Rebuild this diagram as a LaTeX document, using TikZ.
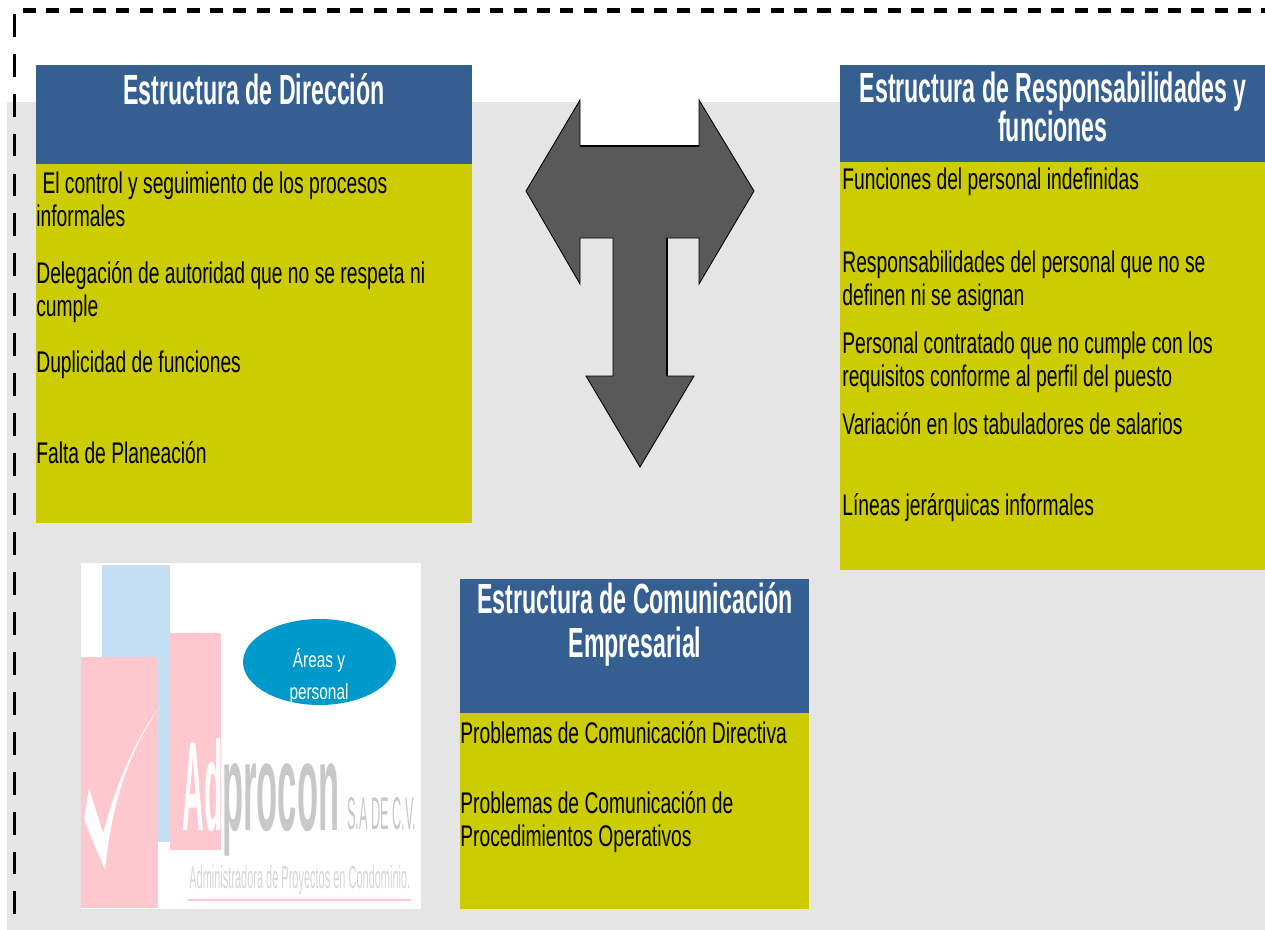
\documentclass[tikz,border=0pt]{standalone}
\usepackage{fontspec}
\setmainfont{Liberation Sans}
\newfontfamily\bodyfont[FakeStretch=0.645]{Liberation Sans}
\newfontfamily\ovalfont[FakeStretch=0.70]{Liberation Sans}
\newfontfamily\titlefont[FakeStretch=0.55]{Liberation Sans Bold}
\usetikzlibrary{shapes.geometric,positioning}
\definecolor{headblue}{HTML}{365F91}
\definecolor{paneyellow}{HTML}{CCCC00}
\definecolor{backgray}{HTML}{E5E5E5}
\definecolor{arrowgray}{HTML}{595959}
\definecolor{logoblue}{HTML}{C4DEF3}
\definecolor{logopink}{HTML}{FFC8CE}
\definecolor{logogray}{HTML}{C8C8C8}
\definecolor{ovalblue}{HTML}{0099CC}
\tikzstyle{body}=[inner sep=0pt,anchor=west,align=left,font=\fontsize{17}{18.7}\bodyfont]
\tikzstyle{heading}=[inner sep=0pt,text=white,align=center,font=\fontsize{24}{24}\titlefont]
\tikzstyle{logotext}=[inner sep=0pt,anchor=base west]
\begin{document}
\begin{tikzpicture}[x=0.02cm,y=-0.02cm]
\useasboundingbox (0,0) rectangle (1265,930);
\fill[backgray] (7,102) rectangle (1265,930);
\coordinate (cornerleft) at (14.5,14);
\coordinate (cornerbottom) at (14.5,930);
\coordinate (cornertop) at (23,10.5);
\coordinate (cornerright) at (1265,10.5);
\draw[line width=3.4pt,dash pattern=on 7.4pt off 5.9pt] (cornertop) -- (cornerright);
\draw[line width=2.2pt,dash pattern=on 13pt off 9.7pt] (cornerleft) -- (cornerbottom);
% three blocks
\fill[headblue] (36,65) rectangle (472,164);
\fill[paneyellow] (36,164) rectangle (472,523);
\fill[headblue] (840,65) rectangle (1265,162);
\fill[paneyellow] (840,162) rectangle (1265,570);
\fill[headblue] (460,579) rectangle (809,713);
\fill[paneyellow] (460,713) rectangle (809,909);
\node (dirtitle) [heading] at (254,89) {Estructura de Dirección};
\node (dir1) [body] at (36,199) {\hspace{3.5pt}El control y seguimiento de los procesos\\informales};
\node (dir2) [body] at (36,292) {Delegación de autoridad que no se respeta ni\\cumple};
\node (dir3) [body] at (36,365) {Duplicidad de funciones};
\node (dir4) [body] at (36,453) {Falta de Planeación};
\node (restitle) [heading] at (1053,107) {Estructura de Responsabilidades y\\[-2pt]funciones};
\node (res1) [body] at (842,182) {Funciones del personal indefinidas};
\node (res2) [body] at (842,281) {Responsabilidades del personal que no se\\definen ni se asignan};
\node (res3) [body] at (842,362) {Personal contratado que no cumple con los\\requisitos conforme al perfil del puesto};
\node (res4) [body] at (842,424) {Variación en los tabuladores de salarios};
\node (res5) [body] at (842,508) {Líneas jerárquicas informales};
\node (comtitle) [heading] at (635,624) {Estructura de Comunicación\\[1pt]Empresarial};
\node (com1) [body] at (460,733) {Problemas de Comunicación Directiva};
\node (com2) [body] at (460,822) {Problemas de Comunicación de\\Procedimientos Operativos};
% arrow
\fill[white] (580,100) rectangle (699,145);
\draw[fill=arrowgray,line width=0.5pt,line join=miter] (526,191) -- (580,100) -- (580,146) -- (699,146) -- (699,100) -- (754,191) -- (699,284) -- (699,238) -- (667,238) -- (667,376) -- (694,376) -- (640,467) -- (586,376) -- (613,376) -- (613,238) -- (580,238) -- (580,284) -- cycle;
\draw[line width=1.2pt] (580,146) -- (699,146);
\draw[line width=0.9pt] (667,238) -- (667,376);
% logo
\fill[white] (81,563) rectangle (421,909);
\fill[logopink] (170,633) rectangle (221,850);
\fill[logoblue] (102,565) rectangle (170,842);
\fill[logopink] (81,657) rectangle (158,908);
\fill[white] (89,788) -- (103,833) .. controls (118,780) and (135,740) .. (160,706) .. controls (130,750) and (112,800) .. (105,870) -- (84,820) -- cycle;
\node (logoad) [logotext,text=white] at (182,830) {\resizebox{0.8cm}{1.84cm}{\bfseries Ad}};
\node (logoname) [logotext,text=logogray] at (222,830) {\resizebox{2.34cm}{1.34cm}{\bfseries procon}};
\node (logosa) [logotext,text=logogray] at (347,829) {\resizebox{1.38cm}{0.64cm}{S.A DE C.V.}};
\node (logosub) [logotext,text=logogray!75] at (189,888) {\resizebox{4.42cm}{0.46cm}{Administradora de Proyectos en Condominio.}};
\coordinate (rulestart) at (188,900);
\coordinate (ruleend) at (411,900);
\draw[logopink,line width=1.2pt] (rulestart) -- (ruleend);
\node (oval) [ellipse,fill=ovalblue,minimum width=3.06cm,minimum height=1.72cm,inner sep=0pt] at (319.5,662) {};
\node (ovaltext) [inner sep=0pt,text=white,align=center,font=\fontsize{12.5}{18}\ovalfont] at (319,676) {Áreas y\\personal};
\end{tikzpicture}
\end{document}
